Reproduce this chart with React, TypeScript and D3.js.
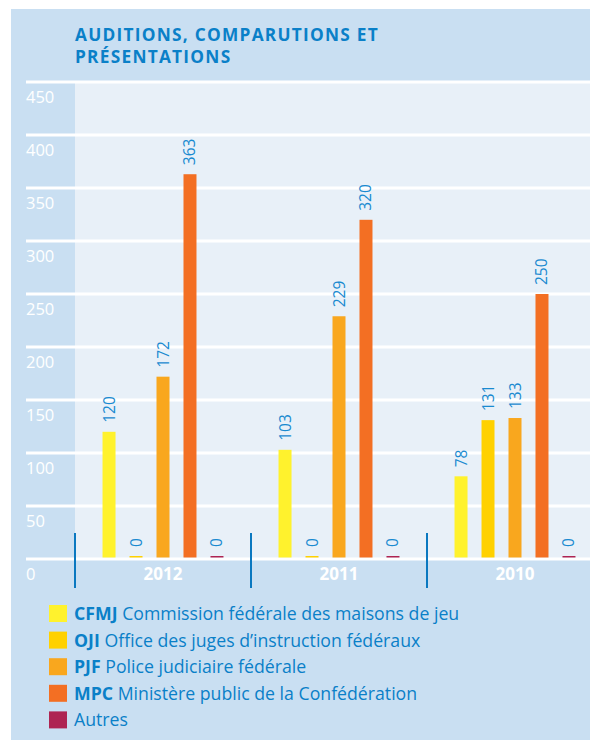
import React from "react";
import * as d3 from "d3";

const years = ["2012", "2011", "2010"];
const seriesKeys = ["CFMJ", "OJI", "PJF", "MPC", "Autres"];
const seriesNames = [
  "Commission fédérale des maisons de jeu",
  "Office des juges d’instruction fédéraux",
  "Police judiciaire fédérale",
  "Ministère public de la Confédération",
  "",
];
const seriesColors = ["#fff22d", "#ffd100", "#f9a71e", "#f36f23", "#ae2452"];
const values2012 = [120, 0, 172, 363, 0];
const values2011 = [103, 0, 229, 320, 0];
const values2010 = [78, 131, 133, 250, 0];
const yTicks = [0, 50, 100, 150, 200, 250, 300, 350, 400, 450];
const titleLines = ["AUDITIONS, COMPARUTIONS ET", "PRÉSENTATIONS"];

const allValues = [values2012, values2011, values2010];

const W = 590;
const H = 740;
const FONT = "'Open Sans', 'Noto Sans', sans-serif";
const BLUE = "#0a80c8";
const LABEL_BLUE = "#1a8ad0";

export default function App() {
  const y = d3.scaleLinear().domain([0, 450]).range([559, 82]);
  const x0 = d3.scaleBand().domain(years).range([75, 603]);
  const x1 = d3
    .scaleBand()
    .domain(seriesKeys)
    .range([0, x0.bandwidth()])
    .paddingInner(14 / 27)
    .paddingOuter(1.02);

  return (
    <svg
      width={W}
      height={H}
      style={{ position: "absolute", left: 0, top: 0 }}
      fontFamily={FONT}
    >
      <rect x={11} y={9} width={W - 11} height={H - 9} fill="#c9dff2" />
      <rect x={75} y={y(450)} width={W - 75} height={y(0) - y(450)} fill="#e8f0f8" />
      {titleLines.map((t, i) => (
        <text
          key={i}
          x={75}
          y={41 + i * 22}
          fill={BLUE}
          fontWeight="bold"
          fontSize={17.3}
          letterSpacing={1.25}
        >
          {t}
        </text>
      ))}
      {yTicks.map((t) => (
        <g key={t}>
          <line x1={26} x2={W} y1={y(t)} y2={y(t)} stroke="#ffffff" strokeWidth={3} />
          <text x={26} y={y(t) + 21} fill="#ffffff" fontSize={16.5}>
            {t}
          </text>
        </g>
      ))}
      {years.map((yr, gi) => {
        const gx = x0(yr)!;
        return (
          <g key={yr}>
            {seriesKeys.map((k, si) => {
              const v = allValues[gi][si];
              const bx = gx + x1(k)!;
              const top = v === 0 ? y(0) - 3 : y(v);
              const cx = bx + x1.bandwidth() / 2;
              const ly = top - 9;
              return (
                <g key={k}>
                  <rect
                    x={bx}
                    y={top}
                    width={x1.bandwidth()}
                    height={y(0) - top - 1.5}
                    fill={seriesColors[si]}
                  />
                  <text
                    transform={`translate(${cx + 5.5},${ly}) rotate(-90)`}
                    fill={LABEL_BLUE}
                    fontSize={15.5}
                  >
                    {v}
                  </text>
                </g>
              );
            })}
            <text
              x={gx + x0.bandwidth() / 2}
              y={580}
              textAnchor="middle"
              fill="#ffffff"
              fontWeight="bold"
              fontSize={17}
            >
              {yr}
            </text>
            <line x1={gx} x2={gx} y1={533} y2={588} stroke="#0a78c0" strokeWidth={2} />
          </g>
        );
      })}
      {seriesKeys.map((k, i) => (
        <g key={k} transform={`translate(0,${605 + i * 26.6})`}>
          <rect x={49} y={0} width={18} height={17} fill={seriesColors[i]} />
          <text x={74} y={15} fill={BLUE} fontSize={17.7}>
            {seriesNames[i] ? (
              <>
                <tspan fontWeight="bold">{k}</tspan>
                <tspan> {seriesNames[i]}</tspan>
              </>
            ) : (
              <tspan>{k}</tspan>
            )}
          </text>
        </g>
      ))}
    </svg>
  );
}
